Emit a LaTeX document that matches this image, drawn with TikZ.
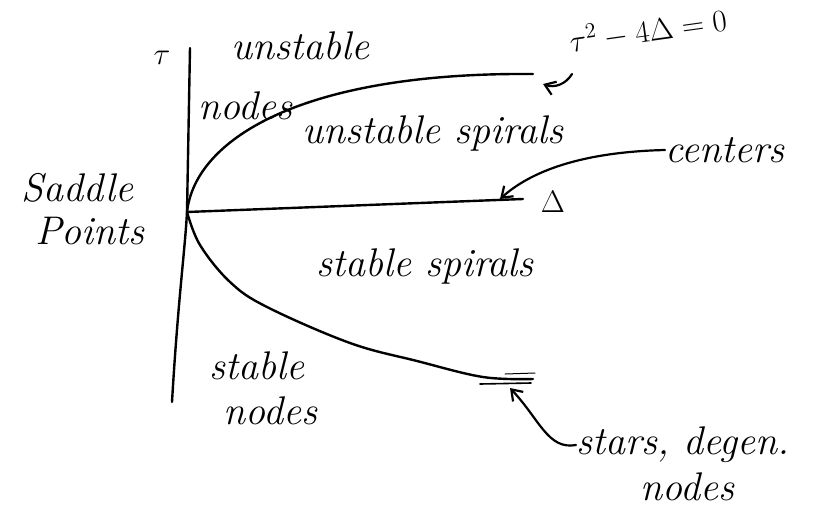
\documentclass[tikz,border=0pt]{standalone}
\usetikzlibrary{arrows.meta}
\begin{document}
\begin{tikzpicture}[x=1pt,y=-1pt,line cap=round,line join=round,
  lbl/.style={font=\fontsize{40}{44}\selectfont\itshape,inner sep=0pt},
  mathlbl/.style={font=\huge,scale=1.5,inner sep=0pt},
  curveline/.style={line width=2.4pt},
  pointer/.style={line width=2.2pt,-{Straight Barb[length=10pt,width=14pt,line width=2.2pt]}}]
\useasboundingbox (0,0) rectangle (816,507);
% axes
\coordinate (O) at (187,212);
\coordinate (tautop) at (190,48);
\coordinate (taubot) at (172,402);
\coordinate (deltaend) at (523,199);
\draw[curveline] (taubot) .. controls (178,300) and (185,250) .. (O) -- (tautop);
\draw[curveline] (O) -- (deltaend);
% upper parabola branch
\coordinate (U) at (533,74);
\draw[curveline] (O) .. controls (195,140) and (300,72) .. (U);
% lower parabola branch
\draw[curveline] plot[smooth,tension=0.6] coordinates {(187,212) (200,245) (230,282) (267,307) (350,343) (417,361) (483,377) (533,379)};
\coordinate (m1a) at (480,384); \coordinate (m1b) at (531,383);
\coordinate (m2a) at (505,374); \coordinate (m2b) at (535,373);
\draw[line width=1.6pt] (m1a) -- (m1b);
\draw[line width=1pt] (m2a) -- (m2b);
% labels
\node[mathlbl] (tau) at (162,58) {$\tau$};
\node[lbl] (unst) at (300,46) {unstable};
\node[lbl] (unstnodes) at (245,106) {nodes};
\node[lbl] (saddle) at (77,188) {Saddle};
\node[lbl] (points) at (90,231) {Points};
\node[lbl] (uspir) at (433,133) {unstable spirals};
\node[lbl] (sspir) at (425,266) {stable spirals};
\node[lbl] (st) at (257,366) {stable};
\node[lbl] (stnodes) at (270,411) {nodes};
\node[mathlbl] (delta) at (553,202) {$\Delta$};
\node[mathlbl,rotate=8] (eq) at (648,30) {$\tau^2-4\Delta=0$};
\node[lbl] (centers) at (725,150) {centers};
\node[lbl] (stars) at (683,445) {stars, degen.};
\node[lbl] (degnodes) at (687,487) {nodes};
% pointers
\coordinate (eqtail) at (572,74);
\coordinate (eqtip) at (543,84);
\draw[pointer] (eqtail) to[bend left=40] (eqtip);
\coordinate (centip) at (500,199);
\draw[pointer] (centers.west) .. controls (580,152) and (530,172) .. (centip);
\coordinate (startip) at (510,388);
\draw[pointer] (stars.west) .. controls (548,450) and (540,420) .. (startip);
\end{tikzpicture}
\end{document}
